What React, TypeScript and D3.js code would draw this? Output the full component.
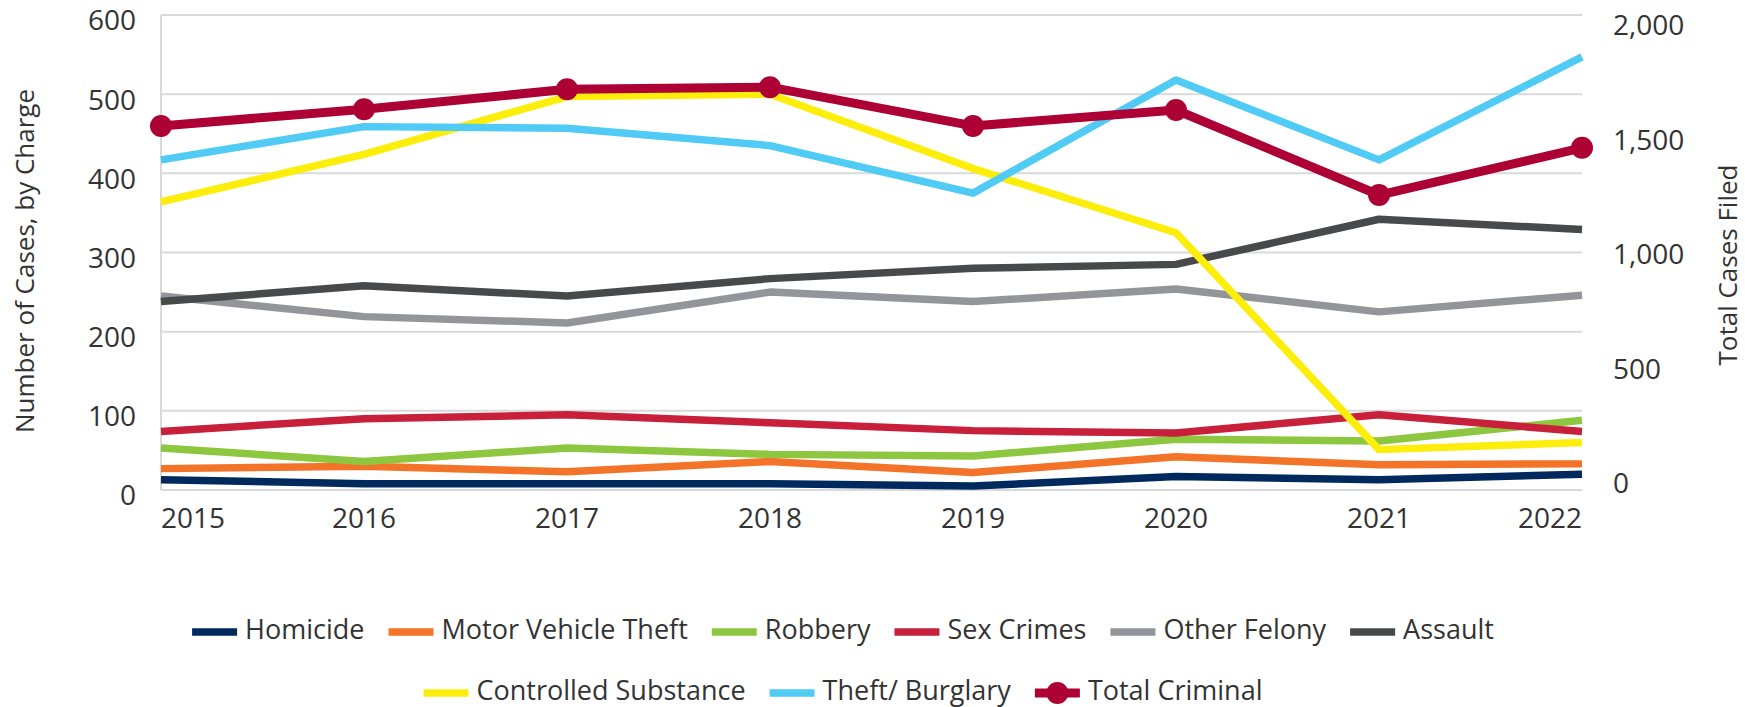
import React, { useEffect, useRef } from "react";
import * as d3 from "d3";

const years = [2015, 2016, 2017, 2018, 2019, 2020, 2021, 2022];
const homicide = [13, 8, 8, 8, 5, 17, 13, 20];
const motorVehicleTheft = [27, 30, 23, 36, 22, 42, 32, 33];
const robbery = [53, 36, 53, 45, 43, 64, 62, 88];
const sexCrimes = [74, 90, 95, 85, 75, 72, 95, 74];
const otherFelony = [245, 219, 211, 250, 238, 254, 225, 246];
const assault = [238, 258, 245, 267, 280, 285, 342, 329];
const controlledSubstance = [364, 424, 497, 500, 406, 325, 51, 60];
const theftBurglary = [417, 459, 457, 435, 375, 518, 417, 547];
const totalCriminal = [1533, 1603, 1687, 1696, 1533, 1600, 1242, 1441];

const leftTicks = [0, 100, 200, 300, 400, 500, 600];
const rightTicks = [0, 500, 1000, 1500, 2000];

const seriesNames = [
  "Homicide",
  "Motor Vehicle Theft",
  "Robbery",
  "Sex Crimes",
  "Other Felony",
  "Assault",
  "Controlled Substance",
  "Theft/ Burglary",
];
const seriesValues = [
  homicide,
  motorVehicleTheft,
  robbery,
  sexCrimes,
  otherFelony,
  assault,
  controlledSubstance,
  theftBurglary,
];
const seriesColors = [
  "#002a5e",
  "#f37329",
  "#8dc63f",
  "#c8203a",
  "#939598",
  "#48494b",
  "#fcee0a",
  "#4fcbf5",
];
const totalName = "Total Criminal";
const totalColor = "#ad0035";

const W = 1745;
const H = 707;
const FONT = "'Open Sans', sans-serif";
const TEXT = "#333333";

export default function App() {
  const ref = useRef<SVGSVGElement | null>(null);

  useEffect(() => {
    document.body.style.margin = "0";
    const svg = d3.select(ref.current);
    svg.selectAll("*").remove();

    const left = 161, right = 1582, top = 15, bottom = 490;
    const x = d3.scalePoint<number>().domain(years).range([left, right]);
    const yL = d3.scaleLinear().domain([0, 600]).range([bottom, top]);
    const yR = d3.scaleLinear().domain([0, 2000]).range([bottom, top]);
    const yRLabel = d3.scaleLinear().domain([0, 2000]).range([486, 28]);

    // gridlines
    svg.append("g")
      .selectAll("line")
      .data(leftTicks)
      .join("line")
      .attr("x1", left)
      .attr("x2", right)
      .attr("y1", (d) => yL(d))
      .attr("y2", (d) => yL(d))
      .attr("stroke", "#d9d9d9")
      .attr("stroke-width", 2);
    svg.append("line")
      .attr("x1", left).attr("x2", left)
      .attr("y1", top).attr("y2", bottom)
      .attr("stroke", "#d9d9d9").attr("stroke-width", 2);

    // left tick labels
    svg.append("g")
      .selectAll("text")
      .data(leftTicks)
      .join("text")
      .attr("x", 136)
      .attr("y", (d) => yL(d) + 8)
      .attr("text-anchor", "end")
      .attr("dominant-baseline", "middle")
      .attr("font-family", FONT)
      .attr("font-size", 28)
      .attr("fill", TEXT)
      .text((d) => d3.format(",")(d));

    // right tick labels
    svg.append("g")
      .selectAll("text")
      .data(rightTicks)
      .join("text")
      .attr("x", 1613)
      .attr("y", (d) => yRLabel(d))
      .attr("text-anchor", "start")
      .attr("dominant-baseline", "middle")
      .attr("font-family", FONT)
      .attr("font-size", 28)
      .attr("fill", TEXT)
      .text((d) => d3.format(",")(d));

    // x labels
    svg.append("g")
      .selectAll("text")
      .data(years)
      .join("text")
      .attr("x", (d) => x(d)!)
      .attr("y", 521)
      .attr("text-anchor", (d, i) => (i === 0 ? "start" : i === years.length - 1 ? "end" : "middle"))
      .attr("dominant-baseline", "middle")
      .attr("font-family", FONT)
      .attr("font-size", 28)
      .attr("fill", TEXT)
      .text((d) => String(d));

    // axis titles
    svg.append("text")
      .attr("transform", `translate(27,261) rotate(-90)`)
      .attr("text-anchor", "middle")
      .attr("dominant-baseline", "middle")
      .attr("font-family", FONT)
      .attr("font-size", 26)
      .attr("fill", TEXT)
      .text("Number of Cases, by Charge");
    svg.append("text")
      .attr("transform", `translate(1730,265) rotate(-90)`)
      .attr("text-anchor", "middle")
      .attr("dominant-baseline", "middle")
      .attr("font-family", FONT)
      .attr("font-size", 26)
      .attr("fill", TEXT)
      .text("Total Cases Filed");

    // series lines
    const lineL = d3.line<number>()
      .x((_, i) => x(years[i])!)
      .y((d) => yL(d));
    seriesValues.forEach((vals, k) => {
      svg.append("path")
        .datum(vals)
        .attr("d", lineL)
        .attr("fill", "none")
        .attr("stroke", seriesColors[k])
        .attr("stroke-width", 7.5)
        .attr("stroke-linejoin", "round");
    });

    const lineR = d3.line<number>()
      .x((_, i) => x(years[i])!)
      .y((d) => yR(d));
    svg.append("path")
      .datum(totalCriminal)
      .attr("d", lineR)
      .attr("fill", "none")
      .attr("stroke", totalColor)
      .attr("stroke-width", 9)
      .attr("stroke-linejoin", "round");
    svg.append("g")
      .selectAll("circle")
      .data(totalCriminal)
      .join("circle")
      .attr("cx", (_, i) => x(years[i])!)
      .attr("cy", (d) => yR(d))
      .attr("r", 11)
      .attr("fill", totalColor);

    // legend
    const items = [
      ...seriesNames.map((n, k) => ({ name: n, color: seriesColors[k], marker: false })),
      { name: totalName, color: totalColor, marker: true },
    ];
    const rows = [items.slice(0, 6), items.slice(6)];
    const rowY = [632, 693];
    const sw = 45, gapText = 8, gapItem = 24, cx = 843, fs = 27;
    rows.forEach((row, r) => {
      const g = svg.append("g");
      const widths: number[] = [];
      row.forEach((it) => {
        const t = g.append("text")
          .attr("font-family", FONT)
          .attr("font-size", fs)
          .attr("fill", TEXT)
          .attr("dominant-baseline", "middle")
          .attr("y", rowY[r])
          .text(it.name);
        widths.push((t.node() as SVGTextElement).getComputedTextLength());
        t.remove();
      });
      const total = d3.sum(widths) + row.length * (sw + gapText) + (row.length - 1) * gapItem;
      let xp = cx - total / 2;
      row.forEach((it, i) => {
        g.append("line")
          .attr("x1", xp).attr("x2", xp + sw)
          .attr("y1", rowY[r]).attr("y2", rowY[r])
          .attr("stroke", it.color)
          .attr("stroke-width", it.marker ? 9 : 7.5);
        if (it.marker) {
          g.append("circle")
            .attr("cx", xp + sw / 2).attr("cy", rowY[r])
            .attr("r", 11).attr("fill", it.color);
        }
        g.append("text")
          .attr("x", xp + sw + gapText)
          .attr("y", rowY[r])
          .attr("font-family", FONT)
          .attr("font-size", fs)
          .attr("fill", TEXT)
          .attr("dominant-baseline", "middle")
          .text(it.name);
        xp += sw + gapText + widths[i] + gapItem;
      });
    });
  }, []);

  return <svg ref={ref} width={W} height={H} style={{ display: "block", background: "#fff" }} />;
}
